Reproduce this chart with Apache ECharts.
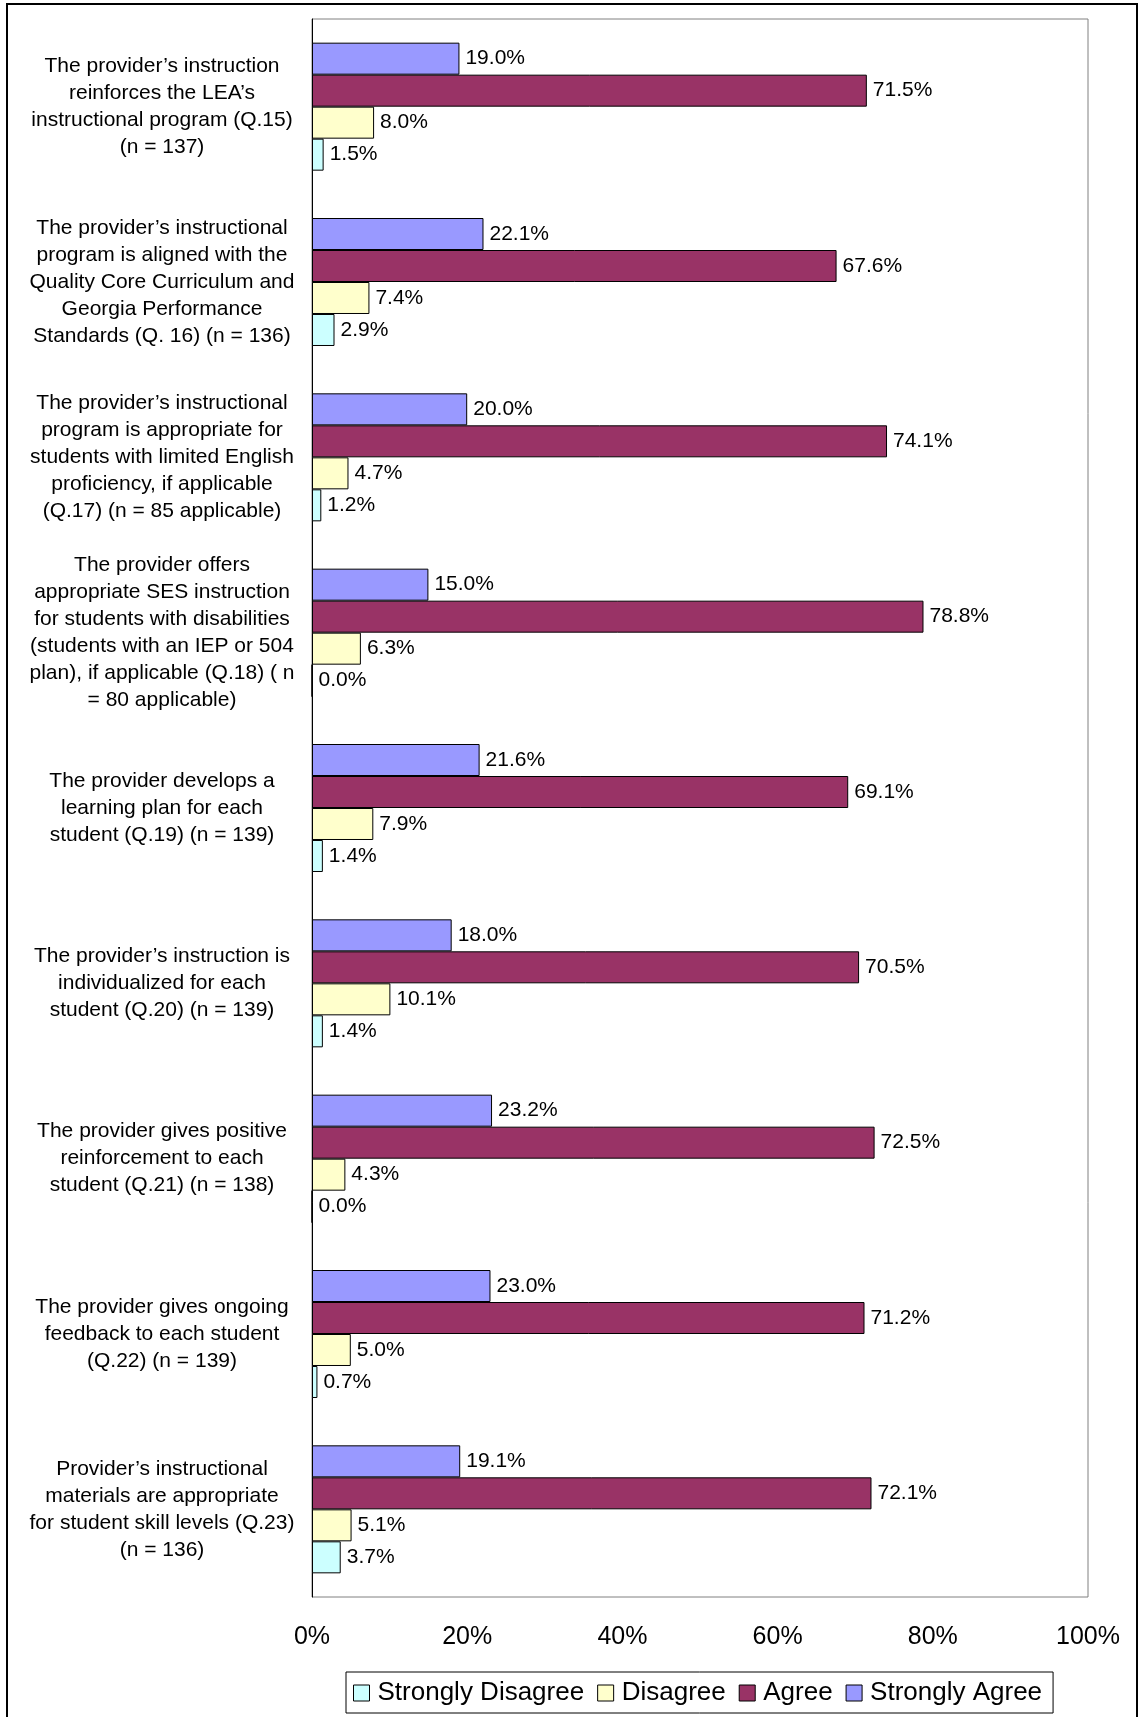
<!DOCTYPE html>
<html>
<head>
<meta charset="utf-8">
<script src="https://cdn.jsdelivr.net/npm/echarts@6/dist/echarts.min.js"></script>
<style>
  html, body { margin: 0; padding: 0; background: #fff; }
  #chart { width: 1139px; height: 1717px; }
</style>
</head>
<body>
<div id="chart"></div>
<script>
// Survey items, top to bottom
const categories = [
  "The provider\u2019s instruction\nreinforces the LEA\u2019s\ninstructional program (Q.15)\n(n = 137)",
  "The provider\u2019s instructional\nprogram is aligned with the\nQuality Core Curriculum and\nGeorgia Performance\nStandards (Q. 16) (n = 136)",
  "The provider\u2019s instructional\nprogram is appropriate for\nstudents with limited English\nproficiency, if applicable\n(Q.17) (n = 85 applicable)",
  "The provider offers\nappropriate SES instruction\nfor students with disabilities\n(students with an IEP or 504\nplan), if applicable (Q.18) ( n\n= 80 applicable)",
  "The provider develops a\nlearning plan for each\nstudent (Q.19) (n = 139)",
  "The provider\u2019s instruction is\nindividualized for each\nstudent (Q.20) (n = 139)",
  "The provider gives positive\nreinforcement to each\nstudent (Q.21) (n = 138)",
  "The provider gives ongoing\nfeedback to each student\n(Q.22) (n = 139)",
  "Provider\u2019s instructional\nmaterials are appropriate\nfor student skill levels (Q.23)\n(n = 136)"
];

// Percent of respondents per answer
const stronglyAgree    = [19.0, 22.1, 20.0, 15.0, 21.6, 18.0, 23.2, 23.0, 19.1];
const agree            = [71.5, 67.6, 74.1, 78.8, 69.1, 70.5, 72.5, 71.2, 72.1];
const disagree         = [8.0, 7.4, 4.7, 6.3, 7.9, 10.1, 4.3, 5.0, 5.1];
const stronglyDisagree = [1.5, 2.9, 1.2, 0.0, 1.4, 1.4, 0.0, 0.7, 3.7];

const legendOrder = ["Strongly Disagree", "Disagree", "Agree", "Strongly Agree"];
const xTicks = [0, 20, 40, 60, 80, 100];

const FONT = "'Liberation Sans', Arial, sans-serif";

function barSeries(name, data, color) {
  return {
    name: name,
    type: "bar",
    data: data,
    barGap: "0%",
    barCategoryGap: "27%",
    itemStyle: { color: color, borderColor: "#000", borderWidth: 1 },
    label: {
      show: true,
      position: "right",
      distance: 6,
      color: "#000",
      fontFamily: FONT,
      fontSize: 21,
      formatter: p => p.value.toFixed(1) + "%"
    },
    emphasis: { disabled: true }
  };
}

const chart = echarts.init(document.getElementById("chart"), null, { renderer: "canvas" });

chart.setOption({
  backgroundColor: "#fff",
  animation: false,
  textStyle: { fontFamily: FONT, color: "#000" },
  grid: {
    left: 312, top: 19, width: 776, height: 1578,
    show: true, borderColor: "#808080", borderWidth: 1,
    containLabel: false
  },
  xAxis: {
    type: "value",
    min: xTicks[0],
    max: xTicks[xTicks.length - 1],
    interval: xTicks[1] - xTicks[0],
    axisLine: { show: false },
    axisTick: { show: false },
    splitLine: { show: false },
    axisLabel: {
      formatter: "{value}%",
      fontFamily: FONT,
      fontSize: 25,
      color: "#000",
      margin: 28
    }
  },
  yAxis: {
    type: "category",
    data: categories,
    inverse: true,
    axisLine: { show: true, lineStyle: { color: "#000", width: 1 } },
    axisTick: { show: false },
    splitLine: { show: false },
    axisLabel: {
      fontFamily: FONT,
      fontSize: 21,
      lineHeight: 27,
      color: "#000",
      align: "center",
      margin: 150
    }
  },
  legend: {
    data: legendOrder,
    left: 346,
    top: 1672,
    orient: "horizontal",
    borderColor: "#000",
    borderWidth: 1,
    padding: [8, 11, 7, 7],
    itemWidth: 16,
    itemHeight: 16,
    itemGap: 13,
    icon: "rect",
    itemStyle: { borderColor: "#000", borderWidth: 1 },
    textStyle: { fontFamily: FONT, fontSize: 26, color: "#000", padding: [0, 0, 0, 3] },
    selectedMode: false
  },
  graphic: [{
    type: "rect",
    shape: { x: 7, y: 4, width: 1130, height: 1730 },
    style: { fill: "none", stroke: "#000", lineWidth: 2 },
    silent: true
  }],
  series: [
    barSeries("Strongly Agree", stronglyAgree, "#9999FF"),
    barSeries("Agree", agree, "#993366"),
    barSeries("Disagree", disagree, "#FFFFCC"),
    barSeries("Strongly Disagree", stronglyDisagree, "#CCFFFF")
  ]
});
</script>
</body>
</html>
